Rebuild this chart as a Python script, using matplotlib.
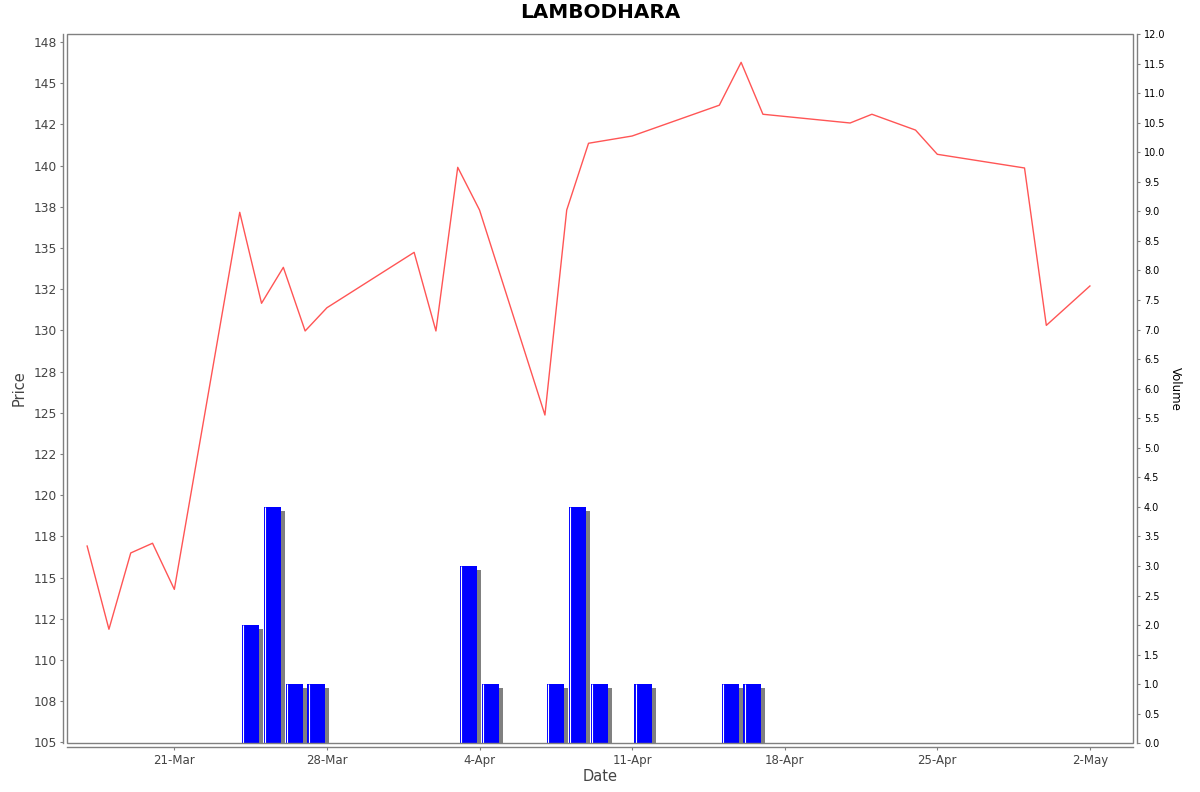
import datetime as dt
import numpy as np
import matplotlib
matplotlib.use('Agg')
import matplotlib.pyplot as plt
import matplotlib.dates as mdates
import matplotlib.transforms as mtransforms
from matplotlib.patches import Rectangle

# price series (daily close)
price_dates = ['2025-03-17', '2025-03-18', '2025-03-19', '2025-03-20', '2025-03-21',
               '2025-03-24', '2025-03-25', '2025-03-26', '2025-03-27', '2025-03-28',
               '2025-04-01', '2025-04-02', '2025-04-03', '2025-04-04',
               '2025-04-07', '2025-04-08', '2025-04-09', '2025-04-11',
               '2025-04-15', '2025-04-16', '2025-04-17',
               '2025-04-21', '2025-04-22', '2025-04-24', '2025-04-25',
               '2025-04-29', '2025-04-30', '2025-05-02']
prices = [116.91, 111.86, 116.49, 117.08, 114.28,
          137.16, 131.64, 133.82, 129.96, 131.37,
          134.73, 129.96, 139.89, 137.30,
          124.86, 137.30, 141.35, 141.79,
          143.66, 146.26, 143.11,
          142.58, 143.11, 142.15, 140.68,
          139.85, 130.30, 132.69]

# volume series
vol_dates = ['2025-03-24', '2025-03-25', '2025-03-26', '2025-03-27',
             '2025-04-03', '2025-04-04', '2025-04-07', '2025-04-08',
             '2025-04-09', '2025-04-11', '2025-04-15', '2025-04-16']
volumes = [2, 4, 1, 1, 3, 1, 1, 4, 1, 1, 1, 1]

price_ticks = np.arange(105, 148, 2.5)
vol_ticks = np.arange(0, 12.01, 0.5)
x_tick_dates = ['2025-03-21', '2025-03-28', '2025-04-04', '2025-04-11',
                '2025-04-18', '2025-04-25', '2025-05-02']


def to_num(ds):
    return mdates.date2num([dt.datetime.strptime(d, '%Y-%m-%d') for d in ds])


px = to_num(price_dates)
vx = to_num(vol_dates)

W, H = 1200, 792
fig = plt.figure(figsize=(W / 100, H / 100), dpi=100)
ax = fig.add_axes([67.3 / W, 1 - 743.3 / H, (1133.3 - 67.3) / W, (743.3 - 34) / H])
ax2 = ax.twinx()
ax.set_zorder(ax2.get_zorder() + 1)
ax.patch.set_visible(False)

grey = '#808080'
txt = '#444444'

# volume bars with drop shadow
bar_off, bar_w = 0.1, 0.79
shadow = mtransforms.ScaledTranslation(4 / 100, -4 / 100, fig.dpi_scale_trans)
ax2.bar(vx + bar_off, volumes, width=bar_w, align='edge', color=grey,
        transform=ax2.transData + shadow, zorder=1)
ax2.bar(vx + bar_off, volumes, width=bar_w, align='edge', color='#0000FF', zorder=2)
stripe = mtransforms.ScaledTranslation(1.3 / 100, 0, fig.dpi_scale_trans)
ax2.vlines(vx + bar_off, 0, volumes, colors='white', linewidth=0.8,
           transform=ax2.transData + stripe, zorder=3)

# price line
ax.plot(px, prices, color='#FF5555', linewidth=1.0)

x0 = mdates.date2num(dt.datetime(2025, 3, 16)) + 0.09
x1 = mdates.date2num(dt.datetime(2025, 5, 4)) - 0.01
ax.set_xlim(x0, x1)
ax.set_ylim(104.94, 147.98)
ax2.set_ylim(0, 12.0)

ax.set_yticks(price_ticks)
ax.set_yticklabels([str(round(t)) for t in price_ticks])
ax2.set_yticks(vol_ticks)
ax2.set_yticklabels(['%.1f' % v for v in vol_ticks])
xt = to_num(x_tick_dates)
ax.set_xticks(xt)
ax.set_xticklabels([mdates.num2date(t).strftime('%-d-%b') for t in xt])

for a in (ax, ax2):
    for s in a.spines.values():
        s.set_visible(False)
ax.spines['left'].set_visible(True)
ax.spines['left'].set_position(('outward', 2.9))
ax.spines['bottom'].set_visible(True)
ax.spines['bottom'].set_position(('outward', 2.4))
ax2.spines['right'].set_visible(True)
ax2.spines['right'].set_position(('outward', 2.9))
for s in (ax.spines['left'], ax.spines['bottom'], ax2.spines['right']):
    s.set_color(grey)
    s.set_linewidth(1.0)

ax.tick_params(axis='y', length=2, color=grey, labelsize=8.8, labelcolor=txt, pad=2.8)
ax.tick_params(axis='x', length=2, color=grey, labelsize=8.5, labelcolor=txt, pad=3)
ax2.tick_params(axis='y', length=2, color=grey, labelsize=7, labelcolor='black', pad=2.8)

# plot outline
ax.add_patch(Rectangle((0, 0), 1, 1, transform=ax.transAxes, fill=False,
                       edgecolor=grey, linewidth=1.0, clip_on=False, zorder=10))

fig.text(0.5, 1 - 13 / H, 'LAMBODHARA', ha='center', va='center',
         fontsize=14.4, fontweight='bold', color='black')
fig.text(19.5 / W, 1 - 388.5 / H, 'Price', ha='center', va='center',
         rotation=90, fontsize=10.5, color=txt)
fig.text(600.3 / W, 1 - 776.7 / H, 'Date', ha='center', va='center',
         fontsize=10.5, color=txt)
fig.text(1175 / W, 1 - 388.5 / H, 'Volume', ha='center', va='center',
         rotation=270, fontsize=8.5, color='black')

fig.savefig('out.png', dpi=100)
